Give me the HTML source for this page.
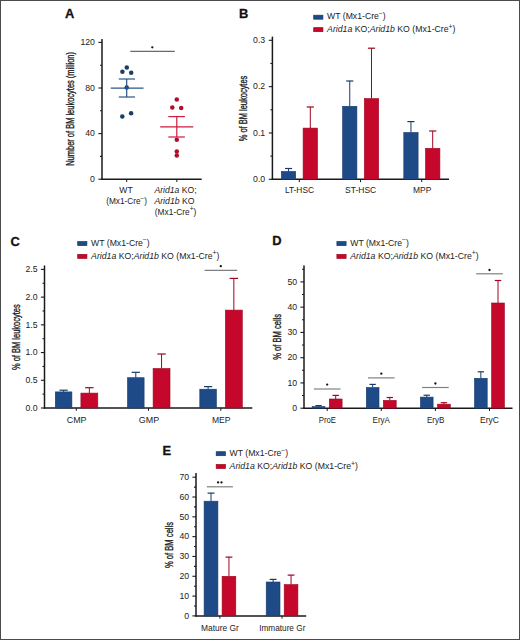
<!DOCTYPE html>
<html><head><meta charset="utf-8"><style>
html,body{margin:0;padding:0;background:#fff;}
svg{display:block;font-family:"Liberation Sans", sans-serif;}
</style></head><body>
<svg width="520" height="640" viewBox="0 0 520 640">
<rect x="0" y="0" width="520" height="640" fill="#fff"/>
<text x="64.90" y="17.90" font-size="12.9" text-anchor="start" font-weight="bold" fill="#111" stroke="#111" stroke-width="0.3">A</text>
<line x1="102.00" y1="38.90" x2="102.00" y2="179.90" stroke="#1a1a1a" stroke-width="1.5"/>
<line x1="98.40" y1="179.20" x2="102.00" y2="179.20" stroke="#1a1a1a" stroke-width="1.1"/>
<line x1="98.40" y1="133.60" x2="102.00" y2="133.60" stroke="#1a1a1a" stroke-width="1.1"/>
<line x1="98.40" y1="88.00" x2="102.00" y2="88.00" stroke="#1a1a1a" stroke-width="1.1"/>
<line x1="98.40" y1="42.40" x2="102.00" y2="42.40" stroke="#1a1a1a" stroke-width="1.1"/>
<line x1="100.00" y1="156.40" x2="102.00" y2="156.40" stroke="#1a1a1a" stroke-width="1.1"/>
<line x1="100.00" y1="110.80" x2="102.00" y2="110.80" stroke="#1a1a1a" stroke-width="1.1"/>
<line x1="100.00" y1="65.20" x2="102.00" y2="65.20" stroke="#1a1a1a" stroke-width="1.1"/>
<text x="94.90" y="181.90" font-size="8.7" text-anchor="end" font-weight="normal" fill="#222">0</text>
<text x="94.90" y="136.30" font-size="8.7" text-anchor="end" font-weight="normal" fill="#222">40</text>
<text x="94.90" y="90.70" font-size="8.7" text-anchor="end" font-weight="normal" fill="#222">80</text>
<text x="94.90" y="45.10" font-size="8.7" text-anchor="end" font-weight="normal" fill="#222">120</text>
<line x1="101.30" y1="179.20" x2="201.70" y2="179.20" stroke="#1a1a1a" stroke-width="1.5"/>
<line x1="126.70" y1="179.20" x2="126.70" y2="182.00" stroke="#1a1a1a" stroke-width="1.0"/>
<line x1="176.80" y1="179.20" x2="176.80" y2="182.00" stroke="#1a1a1a" stroke-width="1.0"/>
<text transform="translate(73.80,108.90) rotate(-90)" x="0" y="0" font-size="10.2" text-anchor="middle" fill="#222" stroke="#222" stroke-width="0.35" textLength="113.8" lengthAdjust="spacingAndGlyphs">Number of BM leukocytes (million)</text>
<line x1="130.30" y1="51.40" x2="174.80" y2="51.40" stroke="#6a6a6a" stroke-width="1.2"/>
<circle cx="152.30" cy="47.30" r="1.15" fill="#111"/>
<circle cx="126.8" cy="67.4" r="2.25" fill="#1b3d66"/>
<circle cx="122.4" cy="71.8" r="2.25" fill="#1b3d66"/>
<circle cx="131.2" cy="72.7" r="2.25" fill="#1b3d66"/>
<circle cx="126.7" cy="87.5" r="2.25" fill="#1b3d66"/>
<circle cx="131.1" cy="113.2" r="2.25" fill="#1b3d66"/>
<circle cx="122.3" cy="116.6" r="2.25" fill="#1b3d66"/>
<circle cx="176.8" cy="99.5" r="2.25" fill="#b40d2c"/>
<circle cx="172.3" cy="107.4" r="2.25" fill="#b40d2c"/>
<circle cx="181.2" cy="107.9" r="2.25" fill="#b40d2c"/>
<circle cx="176.8" cy="139.8" r="2.25" fill="#b40d2c"/>
<circle cx="176.8" cy="151.5" r="2.25" fill="#b40d2c"/>
<circle cx="176.8" cy="155.5" r="2.25" fill="#b40d2c"/>
<line x1="110.80" y1="88.10" x2="143.50" y2="88.10" stroke="#2a5586" stroke-width="1.2"/>
<line x1="118.80" y1="79.00" x2="135.00" y2="79.00" stroke="#2a5586" stroke-width="1.2"/>
<line x1="118.80" y1="97.00" x2="135.00" y2="97.00" stroke="#2a5586" stroke-width="1.2"/>
<line x1="126.70" y1="79.00" x2="126.70" y2="97.00" stroke="#2a5586" stroke-width="1.2"/>
<line x1="160.20" y1="126.90" x2="193.30" y2="126.90" stroke="#cc1c3c" stroke-width="1.2"/>
<line x1="168.30" y1="116.60" x2="184.90" y2="116.60" stroke="#cc1c3c" stroke-width="1.2"/>
<line x1="168.30" y1="137.00" x2="184.90" y2="137.00" stroke="#cc1c3c" stroke-width="1.2"/>
<line x1="176.80" y1="116.60" x2="176.80" y2="137.00" stroke="#cc1c3c" stroke-width="1.2"/>
<text x="126.00" y="193.40" font-size="8.6" text-anchor="middle" font-weight="normal" fill="#222">WT</text>
<text x="126.60" y="204.20" font-size="8.6" text-anchor="middle" font-weight="normal" fill="#222" textLength="40.9" lengthAdjust="spacingAndGlyphs">(Mx1-Cre<tspan dy="-3.3" font-size="6.6">−</tspan><tspan dy="3.3">)</tspan></text>
<text x="154.40" y="193.40" font-size="8.6" text-anchor="start" font-weight="normal" fill="#222" textLength="42.3" lengthAdjust="spacingAndGlyphs"><tspan font-style="italic">Arid1a</tspan> KO;</text>
<text x="154.40" y="204.20" font-size="8.6" text-anchor="start" font-weight="normal" fill="#222" textLength="40.2" lengthAdjust="spacingAndGlyphs"><tspan font-style="italic">Arid1b</tspan> KO</text>
<text x="154.80" y="214.60" font-size="8.6" text-anchor="start" font-weight="normal" fill="#222" textLength="41.4" lengthAdjust="spacingAndGlyphs">(Mx1-Cre<tspan dy="-3.3" font-size="6.6">+</tspan><tspan dy="3.3">)</tspan></text>
<text x="239.00" y="18.10" font-size="12.9" text-anchor="start" font-weight="bold" fill="#111" stroke="#111" stroke-width="0.3">B</text>
<rect x="313.70" y="15.20" width="9.20" height="4.00" fill="#1e4b87" stroke="#163a6a" stroke-width="0.7"/>
<rect x="313.70" y="27.65" width="9.20" height="4.00" fill="#c4072a" stroke="#9e0520" stroke-width="0.7"/>
<text x="327.10" y="19.30" font-size="8.4" text-anchor="start" font-weight="normal" fill="#222" textLength="58.6" lengthAdjust="spacingAndGlyphs">WT (Mx1-Cre<tspan dy="-3.3" font-size="6.6">−</tspan><tspan dy="3.3">)</tspan></text>
<text x="327.10" y="32.05" font-size="8.4" text-anchor="start" font-weight="normal" fill="#222" textLength="128.4" lengthAdjust="spacingAndGlyphs"><tspan font-style="italic">Arid1a</tspan> KO;<tspan font-style="italic">Arid1b</tspan> KO (Mx1-Cre<tspan dy="-3.3" font-size="6.6">+</tspan><tspan dy="3.3">)</tspan></text>
<line x1="272.40" y1="36.60" x2="272.40" y2="180.00" stroke="#1a1a1a" stroke-width="1.5"/>
<line x1="268.80" y1="179.30" x2="272.40" y2="179.30" stroke="#1a1a1a" stroke-width="1.1"/>
<line x1="268.80" y1="132.97" x2="272.40" y2="132.97" stroke="#1a1a1a" stroke-width="1.1"/>
<line x1="268.80" y1="86.63" x2="272.40" y2="86.63" stroke="#1a1a1a" stroke-width="1.1"/>
<line x1="268.80" y1="40.30" x2="272.40" y2="40.30" stroke="#1a1a1a" stroke-width="1.1"/>
<line x1="270.40" y1="156.13" x2="272.40" y2="156.13" stroke="#1a1a1a" stroke-width="1.1"/>
<line x1="270.40" y1="109.80" x2="272.40" y2="109.80" stroke="#1a1a1a" stroke-width="1.1"/>
<line x1="270.40" y1="63.47" x2="272.40" y2="63.47" stroke="#1a1a1a" stroke-width="1.1"/>
<text x="265.20" y="182.00" font-size="8.7" text-anchor="end" font-weight="normal" fill="#222">0.0</text>
<text x="265.20" y="135.67" font-size="8.7" text-anchor="end" font-weight="normal" fill="#222">0.1</text>
<text x="265.20" y="89.33" font-size="8.7" text-anchor="end" font-weight="normal" fill="#222">0.2</text>
<text x="265.20" y="43.00" font-size="8.7" text-anchor="end" font-weight="normal" fill="#222">0.3</text>
<line x1="271.70" y1="179.30" x2="449.00" y2="179.30" stroke="#1a1a1a" stroke-width="1.5"/>
<line x1="299.30" y1="179.30" x2="299.30" y2="182.10" stroke="#1a1a1a" stroke-width="1.0"/>
<line x1="360.50" y1="179.30" x2="360.50" y2="182.10" stroke="#1a1a1a" stroke-width="1.0"/>
<line x1="421.70" y1="179.30" x2="421.70" y2="182.10" stroke="#1a1a1a" stroke-width="1.0"/>
<text transform="translate(247.40,108.50) rotate(-90)" x="0" y="0" font-size="10.2" text-anchor="middle" fill="#222" stroke="#222" stroke-width="0.35" textLength="65.7" lengthAdjust="spacingAndGlyphs">% of BM leukocytes</text>
<line x1="288.55" y1="168.50" x2="288.55" y2="171.40" stroke="#163a6a" stroke-width="1.0"/>
<line x1="284.98" y1="168.50" x2="292.12" y2="168.50" stroke="#163a6a" stroke-width="1.2"/>
<rect x="281.40" y="171.40" width="14.30" height="7.90" fill="#1e4b87" stroke="#163a6a" stroke-width="0.6"/>
<line x1="310.30" y1="107.00" x2="310.30" y2="128.10" stroke="#9e0520" stroke-width="1.0"/>
<line x1="306.70" y1="107.00" x2="313.90" y2="107.00" stroke="#9e0520" stroke-width="1.2"/>
<rect x="303.10" y="128.10" width="14.40" height="51.20" fill="#c4072a" stroke="#9e0520" stroke-width="0.6"/>
<line x1="349.75" y1="81.00" x2="349.75" y2="106.30" stroke="#163a6a" stroke-width="1.0"/>
<line x1="346.18" y1="81.00" x2="353.32" y2="81.00" stroke="#163a6a" stroke-width="1.2"/>
<rect x="342.60" y="106.30" width="14.30" height="73.00" fill="#1e4b87" stroke="#163a6a" stroke-width="0.6"/>
<line x1="371.50" y1="48.20" x2="371.50" y2="98.60" stroke="#9e0520" stroke-width="1.0"/>
<line x1="367.90" y1="48.20" x2="375.10" y2="48.20" stroke="#9e0520" stroke-width="1.2"/>
<rect x="364.30" y="98.60" width="14.40" height="80.70" fill="#c4072a" stroke="#9e0520" stroke-width="0.6"/>
<line x1="410.95" y1="121.60" x2="410.95" y2="132.50" stroke="#163a6a" stroke-width="1.0"/>
<line x1="407.38" y1="121.60" x2="414.52" y2="121.60" stroke="#163a6a" stroke-width="1.2"/>
<rect x="403.80" y="132.50" width="14.30" height="46.80" fill="#1e4b87" stroke="#163a6a" stroke-width="0.6"/>
<line x1="432.70" y1="131.00" x2="432.70" y2="148.30" stroke="#9e0520" stroke-width="1.0"/>
<line x1="429.10" y1="131.00" x2="436.30" y2="131.00" stroke="#9e0520" stroke-width="1.2"/>
<rect x="425.50" y="148.30" width="14.40" height="31.00" fill="#c4072a" stroke="#9e0520" stroke-width="0.6"/>
<text x="299.45" y="193.10" font-size="8.9" text-anchor="middle" font-weight="normal" fill="#222" textLength="29.1" lengthAdjust="spacingAndGlyphs">LT-HSC</text>
<text x="360.60" y="193.10" font-size="8.9" text-anchor="middle" font-weight="normal" fill="#222" textLength="31.2" lengthAdjust="spacingAndGlyphs">ST-HSC</text>
<text x="422.20" y="193.10" font-size="8.9" text-anchor="middle" font-weight="normal" fill="#222" textLength="18.2" lengthAdjust="spacingAndGlyphs">MPP</text>
<text x="10.50" y="245.50" font-size="12.9" text-anchor="start" font-weight="bold" fill="#111" stroke="#111" stroke-width="0.3">C</text>
<rect x="77.70" y="241.60" width="9.20" height="4.00" fill="#1e4b87" stroke="#163a6a" stroke-width="0.7"/>
<rect x="77.70" y="254.40" width="9.20" height="4.00" fill="#c4072a" stroke="#9e0520" stroke-width="0.7"/>
<text x="91.10" y="245.70" font-size="8.4" text-anchor="start" font-weight="normal" fill="#222" textLength="58.6" lengthAdjust="spacingAndGlyphs">WT (Mx1-Cre<tspan dy="-3.3" font-size="6.6">−</tspan><tspan dy="3.3">)</tspan></text>
<text x="91.10" y="258.80" font-size="8.4" text-anchor="start" font-weight="normal" fill="#222" textLength="128.4" lengthAdjust="spacingAndGlyphs"><tspan font-style="italic">Arid1a</tspan> KO;<tspan font-style="italic">Arid1b</tspan> KO (Mx1-Cre<tspan dy="-3.3" font-size="6.6">+</tspan><tspan dy="3.3">)</tspan></text>
<line x1="44.50" y1="265.50" x2="44.50" y2="408.70" stroke="#1a1a1a" stroke-width="1.5"/>
<line x1="40.90" y1="408.00" x2="44.50" y2="408.00" stroke="#1a1a1a" stroke-width="1.1"/>
<line x1="40.90" y1="380.28" x2="44.50" y2="380.28" stroke="#1a1a1a" stroke-width="1.1"/>
<line x1="40.90" y1="352.56" x2="44.50" y2="352.56" stroke="#1a1a1a" stroke-width="1.1"/>
<line x1="40.90" y1="324.84" x2="44.50" y2="324.84" stroke="#1a1a1a" stroke-width="1.1"/>
<line x1="40.90" y1="297.12" x2="44.50" y2="297.12" stroke="#1a1a1a" stroke-width="1.1"/>
<line x1="40.90" y1="269.40" x2="44.50" y2="269.40" stroke="#1a1a1a" stroke-width="1.1"/>
<line x1="42.50" y1="394.14" x2="44.50" y2="394.14" stroke="#1a1a1a" stroke-width="1.1"/>
<line x1="42.50" y1="366.42" x2="44.50" y2="366.42" stroke="#1a1a1a" stroke-width="1.1"/>
<line x1="42.50" y1="338.70" x2="44.50" y2="338.70" stroke="#1a1a1a" stroke-width="1.1"/>
<line x1="42.50" y1="310.98" x2="44.50" y2="310.98" stroke="#1a1a1a" stroke-width="1.1"/>
<line x1="42.50" y1="283.26" x2="44.50" y2="283.26" stroke="#1a1a1a" stroke-width="1.1"/>
<text x="37.60" y="410.70" font-size="8.7" text-anchor="end" font-weight="normal" fill="#222">0.0</text>
<text x="37.60" y="382.98" font-size="8.7" text-anchor="end" font-weight="normal" fill="#222">0.5</text>
<text x="37.60" y="355.26" font-size="8.7" text-anchor="end" font-weight="normal" fill="#222">1.0</text>
<text x="37.60" y="327.54" font-size="8.7" text-anchor="end" font-weight="normal" fill="#222">1.5</text>
<text x="37.60" y="299.82" font-size="8.7" text-anchor="end" font-weight="normal" fill="#222">2.0</text>
<text x="37.60" y="272.10" font-size="8.7" text-anchor="end" font-weight="normal" fill="#222">2.5</text>
<line x1="43.80" y1="408.00" x2="252.30" y2="408.00" stroke="#1a1a1a" stroke-width="1.5"/>
<line x1="76.30" y1="408.00" x2="76.30" y2="410.80" stroke="#1a1a1a" stroke-width="1.0"/>
<line x1="148.50" y1="408.00" x2="148.50" y2="410.80" stroke="#1a1a1a" stroke-width="1.0"/>
<line x1="220.80" y1="408.00" x2="220.80" y2="410.80" stroke="#1a1a1a" stroke-width="1.0"/>
<text transform="translate(19.70,337.20) rotate(-90)" x="0" y="0" font-size="10.2" text-anchor="middle" fill="#222" stroke="#222" stroke-width="0.35" textLength="65.7" lengthAdjust="spacingAndGlyphs">% of BM leukocytes</text>
<line x1="63.60" y1="390.20" x2="63.60" y2="391.90" stroke="#163a6a" stroke-width="1.0"/>
<line x1="59.45" y1="390.20" x2="67.75" y2="390.20" stroke="#163a6a" stroke-width="1.2"/>
<rect x="55.30" y="391.90" width="16.60" height="16.10" fill="#1e4b87" stroke="#163a6a" stroke-width="0.6"/>
<line x1="89.35" y1="387.70" x2="89.35" y2="393.10" stroke="#9e0520" stroke-width="1.0"/>
<line x1="85.12" y1="387.70" x2="93.57" y2="387.70" stroke="#9e0520" stroke-width="1.2"/>
<rect x="80.90" y="393.10" width="16.90" height="14.90" fill="#c4072a" stroke="#9e0520" stroke-width="0.6"/>
<line x1="135.80" y1="372.30" x2="135.80" y2="377.70" stroke="#163a6a" stroke-width="1.0"/>
<line x1="131.65" y1="372.30" x2="139.95" y2="372.30" stroke="#163a6a" stroke-width="1.2"/>
<rect x="127.50" y="377.70" width="16.60" height="30.30" fill="#1e4b87" stroke="#163a6a" stroke-width="0.6"/>
<line x1="161.55" y1="354.00" x2="161.55" y2="368.50" stroke="#9e0520" stroke-width="1.0"/>
<line x1="157.33" y1="354.00" x2="165.78" y2="354.00" stroke="#9e0520" stroke-width="1.2"/>
<rect x="153.10" y="368.50" width="16.90" height="39.50" fill="#c4072a" stroke="#9e0520" stroke-width="0.6"/>
<line x1="208.10" y1="386.60" x2="208.10" y2="389.20" stroke="#163a6a" stroke-width="1.0"/>
<line x1="203.95" y1="386.60" x2="212.25" y2="386.60" stroke="#163a6a" stroke-width="1.2"/>
<rect x="199.80" y="389.20" width="16.60" height="18.80" fill="#1e4b87" stroke="#163a6a" stroke-width="0.6"/>
<line x1="233.85" y1="278.40" x2="233.85" y2="310.10" stroke="#9e0520" stroke-width="1.0"/>
<line x1="229.63" y1="278.40" x2="238.08" y2="278.40" stroke="#9e0520" stroke-width="1.2"/>
<rect x="225.40" y="310.10" width="16.90" height="97.90" fill="#c4072a" stroke="#9e0520" stroke-width="0.6"/>
<line x1="204.60" y1="270.40" x2="237.20" y2="270.40" stroke="#808080" stroke-width="1.2"/>
<circle cx="220.80" cy="266.20" r="1.15" fill="#111"/>
<text x="76.65" y="422.80" font-size="8.9" text-anchor="middle" font-weight="normal" fill="#222" textLength="19.7" lengthAdjust="spacingAndGlyphs">CMP</text>
<text x="148.95" y="422.80" font-size="8.9" text-anchor="middle" font-weight="normal" fill="#222" textLength="20.3" lengthAdjust="spacingAndGlyphs">GMP</text>
<text x="221.25" y="422.80" font-size="8.9" text-anchor="middle" font-weight="normal" fill="#222" textLength="18.5" lengthAdjust="spacingAndGlyphs">MEP</text>
<text x="272.30" y="245.40" font-size="12.9" text-anchor="start" font-weight="bold" fill="#111" stroke="#111" stroke-width="0.3">D</text>
<rect x="336.90" y="241.60" width="9.20" height="4.00" fill="#1e4b87" stroke="#163a6a" stroke-width="0.7"/>
<rect x="336.90" y="254.40" width="9.20" height="4.00" fill="#c4072a" stroke="#9e0520" stroke-width="0.7"/>
<text x="350.30" y="245.70" font-size="8.4" text-anchor="start" font-weight="normal" fill="#222" textLength="58.6" lengthAdjust="spacingAndGlyphs">WT (Mx1-Cre<tspan dy="-3.3" font-size="6.6">−</tspan><tspan dy="3.3">)</tspan></text>
<text x="350.30" y="258.80" font-size="8.4" text-anchor="start" font-weight="normal" fill="#222" textLength="128.4" lengthAdjust="spacingAndGlyphs"><tspan font-style="italic">Arid1a</tspan> KO;<tspan font-style="italic">Arid1b</tspan> KO (Mx1-Cre<tspan dy="-3.3" font-size="6.6">+</tspan><tspan dy="3.3">)</tspan></text>
<line x1="304.00" y1="265.50" x2="304.00" y2="408.90" stroke="#1a1a1a" stroke-width="1.5"/>
<line x1="300.40" y1="408.20" x2="304.00" y2="408.20" stroke="#1a1a1a" stroke-width="1.1"/>
<line x1="300.40" y1="382.94" x2="304.00" y2="382.94" stroke="#1a1a1a" stroke-width="1.1"/>
<line x1="300.40" y1="357.68" x2="304.00" y2="357.68" stroke="#1a1a1a" stroke-width="1.1"/>
<line x1="300.40" y1="332.42" x2="304.00" y2="332.42" stroke="#1a1a1a" stroke-width="1.1"/>
<line x1="300.40" y1="307.16" x2="304.00" y2="307.16" stroke="#1a1a1a" stroke-width="1.1"/>
<line x1="300.40" y1="281.90" x2="304.00" y2="281.90" stroke="#1a1a1a" stroke-width="1.1"/>
<line x1="302.00" y1="395.57" x2="304.00" y2="395.57" stroke="#1a1a1a" stroke-width="1.1"/>
<line x1="302.00" y1="370.31" x2="304.00" y2="370.31" stroke="#1a1a1a" stroke-width="1.1"/>
<line x1="302.00" y1="345.05" x2="304.00" y2="345.05" stroke="#1a1a1a" stroke-width="1.1"/>
<line x1="302.00" y1="319.79" x2="304.00" y2="319.79" stroke="#1a1a1a" stroke-width="1.1"/>
<line x1="302.00" y1="294.53" x2="304.00" y2="294.53" stroke="#1a1a1a" stroke-width="1.1"/>
<line x1="302.00" y1="269.27" x2="304.00" y2="269.27" stroke="#1a1a1a" stroke-width="1.1"/>
<text x="297.20" y="410.90" font-size="8.7" text-anchor="end" font-weight="normal" fill="#222">0</text>
<text x="297.20" y="385.64" font-size="8.7" text-anchor="end" font-weight="normal" fill="#222">10</text>
<text x="297.20" y="360.38" font-size="8.7" text-anchor="end" font-weight="normal" fill="#222">20</text>
<text x="297.20" y="335.12" font-size="8.7" text-anchor="end" font-weight="normal" fill="#222">30</text>
<text x="297.20" y="309.86" font-size="8.7" text-anchor="end" font-weight="normal" fill="#222">40</text>
<text x="297.20" y="284.60" font-size="8.7" text-anchor="end" font-weight="normal" fill="#222">50</text>
<line x1="303.30" y1="408.20" x2="512.50" y2="408.20" stroke="#1a1a1a" stroke-width="1.5"/>
<line x1="327.20" y1="408.20" x2="327.20" y2="411.00" stroke="#1a1a1a" stroke-width="1.0"/>
<line x1="381.30" y1="408.20" x2="381.30" y2="411.00" stroke="#1a1a1a" stroke-width="1.0"/>
<line x1="435.40" y1="408.20" x2="435.40" y2="411.00" stroke="#1a1a1a" stroke-width="1.0"/>
<line x1="489.50" y1="408.20" x2="489.50" y2="411.00" stroke="#1a1a1a" stroke-width="1.0"/>
<text transform="translate(280.80,336.90) rotate(-90)" x="0" y="0" font-size="10.2" text-anchor="middle" fill="#222" stroke="#222" stroke-width="0.35" textLength="45.9" lengthAdjust="spacingAndGlyphs">% of BM cells</text>
<line x1="318.55" y1="405.60" x2="318.55" y2="406.60" stroke="#163a6a" stroke-width="1.0"/>
<line x1="315.37" y1="405.60" x2="321.72" y2="405.60" stroke="#163a6a" stroke-width="1.2"/>
<rect x="312.20" y="406.60" width="12.70" height="1.60" fill="#1e4b87" stroke="#163a6a" stroke-width="0.6"/>
<line x1="335.70" y1="395.40" x2="335.70" y2="399.00" stroke="#9e0520" stroke-width="1.0"/>
<line x1="332.50" y1="395.40" x2="338.90" y2="395.40" stroke="#9e0520" stroke-width="1.2"/>
<rect x="329.30" y="399.00" width="12.80" height="9.20" fill="#c4072a" stroke="#9e0520" stroke-width="0.6"/>
<line x1="372.65" y1="384.40" x2="372.65" y2="387.50" stroke="#163a6a" stroke-width="1.0"/>
<line x1="369.47" y1="384.40" x2="375.82" y2="384.40" stroke="#163a6a" stroke-width="1.2"/>
<rect x="366.30" y="387.50" width="12.70" height="20.70" fill="#1e4b87" stroke="#163a6a" stroke-width="0.6"/>
<line x1="389.80" y1="397.50" x2="389.80" y2="400.40" stroke="#9e0520" stroke-width="1.0"/>
<line x1="386.60" y1="397.50" x2="393.00" y2="397.50" stroke="#9e0520" stroke-width="1.2"/>
<rect x="383.40" y="400.40" width="12.80" height="7.80" fill="#c4072a" stroke="#9e0520" stroke-width="0.6"/>
<line x1="426.75" y1="395.20" x2="426.75" y2="397.10" stroke="#163a6a" stroke-width="1.0"/>
<line x1="423.57" y1="395.20" x2="429.93" y2="395.20" stroke="#163a6a" stroke-width="1.2"/>
<rect x="420.40" y="397.10" width="12.70" height="11.10" fill="#1e4b87" stroke="#163a6a" stroke-width="0.6"/>
<line x1="443.90" y1="402.70" x2="443.90" y2="404.20" stroke="#9e0520" stroke-width="1.0"/>
<line x1="440.70" y1="402.70" x2="447.10" y2="402.70" stroke="#9e0520" stroke-width="1.2"/>
<rect x="437.50" y="404.20" width="12.80" height="4.00" fill="#c4072a" stroke="#9e0520" stroke-width="0.6"/>
<line x1="480.85" y1="371.80" x2="480.85" y2="378.30" stroke="#163a6a" stroke-width="1.0"/>
<line x1="477.68" y1="371.80" x2="484.03" y2="371.80" stroke="#163a6a" stroke-width="1.2"/>
<rect x="474.50" y="378.30" width="12.70" height="29.90" fill="#1e4b87" stroke="#163a6a" stroke-width="0.6"/>
<line x1="498.00" y1="280.50" x2="498.00" y2="303.00" stroke="#9e0520" stroke-width="1.0"/>
<line x1="494.80" y1="280.50" x2="501.20" y2="280.50" stroke="#9e0520" stroke-width="1.2"/>
<rect x="491.60" y="303.00" width="12.80" height="105.20" fill="#c4072a" stroke="#9e0520" stroke-width="0.6"/>
<line x1="313.90" y1="389.00" x2="340.50" y2="389.00" stroke="#808080" stroke-width="1.2"/>
<circle cx="327.20" cy="384.60" r="1.15" fill="#111"/>
<line x1="368.00" y1="377.90" x2="394.60" y2="377.90" stroke="#808080" stroke-width="1.2"/>
<circle cx="381.30" cy="373.70" r="1.15" fill="#111"/>
<line x1="422.10" y1="387.50" x2="448.70" y2="387.50" stroke="#808080" stroke-width="1.2"/>
<circle cx="435.40" cy="383.50" r="1.15" fill="#111"/>
<line x1="476.20" y1="273.80" x2="502.80" y2="273.80" stroke="#808080" stroke-width="1.2"/>
<circle cx="489.50" cy="270.00" r="1.15" fill="#111"/>
<text x="327.35" y="422.80" font-size="8.9" text-anchor="middle" font-weight="normal" fill="#222" textLength="17.3" lengthAdjust="spacingAndGlyphs">ProE</text>
<text x="381.25" y="422.80" font-size="8.9" text-anchor="middle" font-weight="normal" fill="#222" textLength="17.3" lengthAdjust="spacingAndGlyphs">EryA</text>
<text x="435.60" y="422.80" font-size="8.9" text-anchor="middle" font-weight="normal" fill="#222" textLength="17.4" lengthAdjust="spacingAndGlyphs">EryB</text>
<text x="489.40" y="422.80" font-size="8.9" text-anchor="middle" font-weight="normal" fill="#222" textLength="18.8" lengthAdjust="spacingAndGlyphs">EryC</text>
<text x="162.60" y="455.30" font-size="12.9" text-anchor="start" font-weight="bold" fill="#111" stroke="#111" stroke-width="0.3">E</text>
<rect x="216.20" y="451.70" width="9.20" height="4.00" fill="#1e4b87" stroke="#163a6a" stroke-width="0.7"/>
<rect x="216.20" y="464.50" width="9.20" height="4.00" fill="#c4072a" stroke="#9e0520" stroke-width="0.7"/>
<text x="229.60" y="455.80" font-size="8.4" text-anchor="start" font-weight="normal" fill="#222" textLength="58.6" lengthAdjust="spacingAndGlyphs">WT (Mx1-Cre<tspan dy="-3.3" font-size="6.6">−</tspan><tspan dy="3.3">)</tspan></text>
<text x="229.60" y="468.90" font-size="8.4" text-anchor="start" font-weight="normal" fill="#222" textLength="128.4" lengthAdjust="spacingAndGlyphs"><tspan font-style="italic">Arid1a</tspan> KO;<tspan font-style="italic">Arid1b</tspan> KO (Mx1-Cre<tspan dy="-3.3" font-size="6.6">+</tspan><tspan dy="3.3">)</tspan></text>
<line x1="196.00" y1="473.10" x2="196.00" y2="616.60" stroke="#1a1a1a" stroke-width="1.5"/>
<line x1="192.40" y1="615.90" x2="196.00" y2="615.90" stroke="#1a1a1a" stroke-width="1.1"/>
<line x1="192.40" y1="596.09" x2="196.00" y2="596.09" stroke="#1a1a1a" stroke-width="1.1"/>
<line x1="192.40" y1="576.27" x2="196.00" y2="576.27" stroke="#1a1a1a" stroke-width="1.1"/>
<line x1="192.40" y1="556.46" x2="196.00" y2="556.46" stroke="#1a1a1a" stroke-width="1.1"/>
<line x1="192.40" y1="536.64" x2="196.00" y2="536.64" stroke="#1a1a1a" stroke-width="1.1"/>
<line x1="192.40" y1="516.83" x2="196.00" y2="516.83" stroke="#1a1a1a" stroke-width="1.1"/>
<line x1="192.40" y1="497.01" x2="196.00" y2="497.01" stroke="#1a1a1a" stroke-width="1.1"/>
<line x1="192.40" y1="477.20" x2="196.00" y2="477.20" stroke="#1a1a1a" stroke-width="1.1"/>
<line x1="194.00" y1="605.99" x2="196.00" y2="605.99" stroke="#1a1a1a" stroke-width="1.1"/>
<line x1="194.00" y1="586.18" x2="196.00" y2="586.18" stroke="#1a1a1a" stroke-width="1.1"/>
<line x1="194.00" y1="566.36" x2="196.00" y2="566.36" stroke="#1a1a1a" stroke-width="1.1"/>
<line x1="194.00" y1="546.55" x2="196.00" y2="546.55" stroke="#1a1a1a" stroke-width="1.1"/>
<line x1="194.00" y1="526.74" x2="196.00" y2="526.74" stroke="#1a1a1a" stroke-width="1.1"/>
<line x1="194.00" y1="506.92" x2="196.00" y2="506.92" stroke="#1a1a1a" stroke-width="1.1"/>
<line x1="194.00" y1="487.11" x2="196.00" y2="487.11" stroke="#1a1a1a" stroke-width="1.1"/>
<text x="189.10" y="618.60" font-size="8.7" text-anchor="end" font-weight="normal" fill="#222">0</text>
<text x="189.10" y="598.79" font-size="8.7" text-anchor="end" font-weight="normal" fill="#222">10</text>
<text x="189.10" y="578.97" font-size="8.7" text-anchor="end" font-weight="normal" fill="#222">20</text>
<text x="189.10" y="559.16" font-size="8.7" text-anchor="end" font-weight="normal" fill="#222">30</text>
<text x="189.10" y="539.34" font-size="8.7" text-anchor="end" font-weight="normal" fill="#222">40</text>
<text x="189.10" y="519.53" font-size="8.7" text-anchor="end" font-weight="normal" fill="#222">50</text>
<text x="189.10" y="499.71" font-size="8.7" text-anchor="end" font-weight="normal" fill="#222">60</text>
<text x="189.10" y="479.90" font-size="8.7" text-anchor="end" font-weight="normal" fill="#222">70</text>
<line x1="195.30" y1="615.90" x2="306.20" y2="615.90" stroke="#1a1a1a" stroke-width="1.5"/>
<line x1="219.90" y1="615.90" x2="219.90" y2="618.70" stroke="#1a1a1a" stroke-width="1.0"/>
<line x1="282.00" y1="615.90" x2="282.00" y2="618.70" stroke="#1a1a1a" stroke-width="1.0"/>
<text transform="translate(173.30,545.00) rotate(-90)" x="0" y="0" font-size="10.2" text-anchor="middle" fill="#222" stroke="#222" stroke-width="0.35" textLength="46.1" lengthAdjust="spacingAndGlyphs">% of BM cells</text>
<line x1="211.00" y1="493.10" x2="211.00" y2="501.20" stroke="#163a6a" stroke-width="1.0"/>
<line x1="207.55" y1="493.10" x2="214.45" y2="493.10" stroke="#163a6a" stroke-width="1.2"/>
<rect x="204.10" y="501.20" width="13.80" height="114.70" fill="#1e4b87" stroke="#163a6a" stroke-width="0.6"/>
<line x1="228.95" y1="557.10" x2="228.95" y2="576.30" stroke="#9e0520" stroke-width="1.0"/>
<line x1="225.52" y1="557.10" x2="232.38" y2="557.10" stroke="#9e0520" stroke-width="1.2"/>
<rect x="222.10" y="576.30" width="13.70" height="39.60" fill="#c4072a" stroke="#9e0520" stroke-width="0.6"/>
<line x1="273.10" y1="579.40" x2="273.10" y2="582.00" stroke="#163a6a" stroke-width="1.0"/>
<line x1="269.65" y1="579.40" x2="276.55" y2="579.40" stroke="#163a6a" stroke-width="1.2"/>
<rect x="266.20" y="582.00" width="13.80" height="33.90" fill="#1e4b87" stroke="#163a6a" stroke-width="0.6"/>
<line x1="291.05" y1="575.10" x2="291.05" y2="584.60" stroke="#9e0520" stroke-width="1.0"/>
<line x1="287.62" y1="575.10" x2="294.47" y2="575.10" stroke="#9e0520" stroke-width="1.2"/>
<rect x="284.20" y="584.60" width="13.70" height="31.30" fill="#c4072a" stroke="#9e0520" stroke-width="0.6"/>
<line x1="206.80" y1="486.80" x2="232.90" y2="486.80" stroke="#808080" stroke-width="1.2"/>
<circle cx="218.10" cy="482.40" r="1.15" fill="#111"/>
<circle cx="221.50" cy="482.40" r="1.15" fill="#111"/>
<text x="219.90" y="630.60" font-size="8.9" text-anchor="middle" font-weight="normal" fill="#222" textLength="37.8" lengthAdjust="spacingAndGlyphs">Mature Gr</text>
<text x="282.30" y="630.60" font-size="8.9" text-anchor="middle" font-weight="normal" fill="#222" textLength="46.2" lengthAdjust="spacingAndGlyphs">Immature Gr</text>
<rect x="0.5" y="0.5" width="519" height="639" fill="none" stroke="#4a4a4a" stroke-width="1"/>
</svg>
</body></html>
